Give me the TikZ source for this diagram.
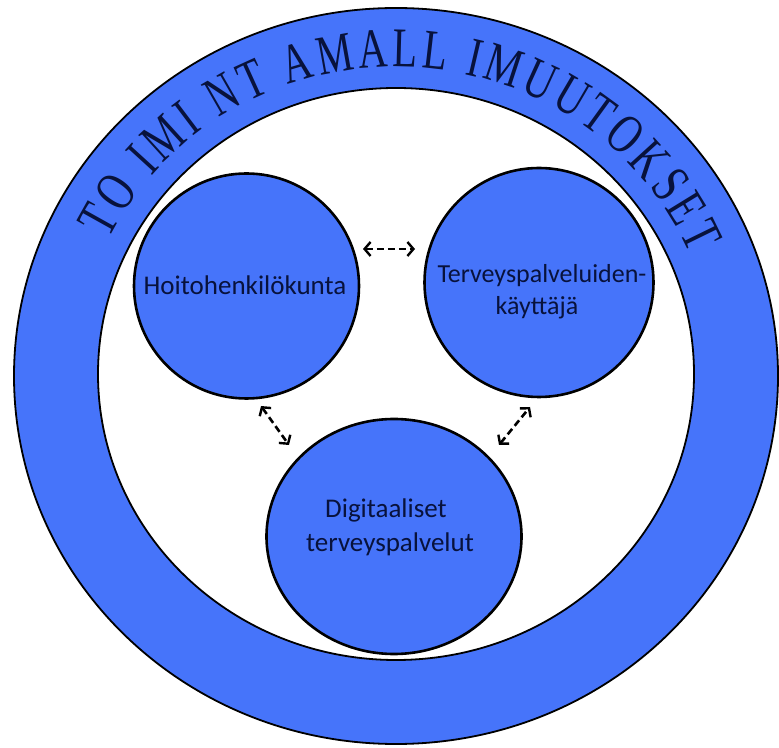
\documentclass[tikz,border=0pt]{standalone}
\usepackage{fontspec}
\setmainfont{Carlito}
\newfontfamily\arcfont[FakeStretch=0.72]{Liberation Serif}
\usetikzlibrary{shapes.geometric,decorations.text,arrows.meta}
\definecolor{ringblue}{RGB}{70,116,250}
\definecolor{txtnavy}{RGB}{8,18,60}
\begin{document}
\begin{tikzpicture}[x=1pt,y=1pt,
  bub/.style={draw=black, line width=2.6pt, fill=ringblue, inner sep=0pt},
  lbl/.style={text=txtnavy, font=\fontsize{27}{32}\selectfont, inner sep=0pt, anchor=base},
  dbl/.style={line width=2.6pt, dash pattern=on 7pt off 4pt,
    {Straight Barb[length=6pt,width=14pt,line width=2.4pt]}-{Straight Barb[length=6pt,width=14pt,line width=2.4pt]}},
  ringline/.style={line width=1.8pt}]
\useasboundingbox (0,0) rectangle (779,747);
\fill[white] (0,0) rectangle (779,747);
% ring
\fill[ringblue, even odd rule] (396,371) ellipse[x radius=382, y radius=368]
  (396,373) ellipse[x radius=298, y radius=286];
\draw[ringline] (396,371) ellipse[x radius=382, y radius=368];
\draw[ringline] (396,373) ellipse[x radius=298, y radius=286];
% arc text
\path[decorate, decoration={text along path, text align={fit to path},
  text={|\arcfont\fontsize{56}{56}\selectfont\color{txtnavy}|TO IMI NT AMALL IMUUTOKSET}}]
  (396,372) ++(154:320 and 308) arc[start angle=154, end angle=23, x radius=320, y radius=308];
% circles
\node[bub, circle, minimum size=225pt] (hoito) at (246.5,461) {};
\node[bub, circle, minimum size=229pt] (kayt) at (539,464.5) {};
\node[bub, ellipse, minimum width=255pt, minimum height=235pt] (digi) at (394,210.5) {};
% labels
\node[lbl] (hoitoT) at (245,452) {Hoitohenkilökunta};
\node[lbl, font=\fontsize{26}{31}\selectfont] (kaytA) at (542,464) {Terveyspalveluiden-};
\node[lbl, font=\fontsize{26}{31}\selectfont] (kaytB) at (537,432) {käyttäjä};
\node[lbl] (digiA) at (386,229) {Digitaaliset};
\node[lbl] (digiB) at (390,195) {terveyspalvelut};
% arrows
\coordinate (a1) at (363,498); \coordinate (a2) at (415,498);
\coordinate (b1) at (261,341); \coordinate (b2) at (289,302);
\coordinate (c1) at (499,302); \coordinate (c2) at (530,340);
\draw[dbl] (a1) -- (a2);
\draw[dbl] (b1) -- (b2);
\draw[dbl] (c1) -- (c2);
\end{tikzpicture}
\end{document}
